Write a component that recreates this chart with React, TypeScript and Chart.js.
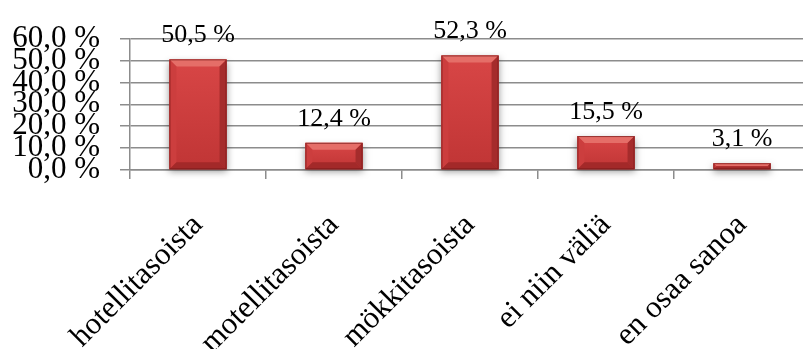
import React, { useEffect, useRef } from "react";
import { Chart, registerables } from "chart.js";

Chart.register(...registerables);

const categories = ["hotellitasoista", "motellitasoista", "mökkitasoista", "ei niin väliä", "en osaa sanoa"];
const shares = [50.5, 12.4, 52.3, 15.5, 3.1];
const yTickValues = [0, 10, 20, 30, 40, 50, 60];

const SERIF = "'Liberation Serif', 'Times New Roman', serif";
const GRID = "#8c8c8c";

const fmt = (v: number) => v.toFixed(1).replace(".", ",") + " %";

// Draws each bar as a bevelled red block with a soft drop shadow, plus its value label.
const bevelBars = {
  id: "bevelBars",
  afterDatasetsDraw(chart: any) {
    const ctx: CanvasRenderingContext2D = chart.ctx;
    const meta = chart.getDatasetMeta(0);
    meta.data.forEach((bar: any, i: number) => {
      const { x, y, base, width } = bar.getProps(["x", "y", "base", "width"], true);
      const l = x - width / 2;
      const r = x + width / 2;
      const t = Math.min(y, base);
      const b = Math.max(y, base);
      const h = b - t;
      const bv = Math.min(7, h / 2, width / 2);

      // shadow
      ctx.save();
      ctx.shadowColor = "rgba(0,0,0,0.4)";
      ctx.shadowBlur = 7;
      ctx.shadowOffsetY = 3;
      ctx.fillStyle = "#b83232";
      ctx.fillRect(l, t, width, h);
      ctx.restore();

      // face
      const g = ctx.createLinearGradient(0, t, 0, b);
      g.addColorStop(0, "#d84646");
      g.addColorStop(1, "#c03535");
      ctx.fillStyle = g;
      ctx.fillRect(l, t, width, h);

      const poly = (pts: number[][], color: string) => {
        ctx.beginPath();
        ctx.moveTo(pts[0][0], pts[0][1]);
        for (let k = 1; k < pts.length; k++) ctx.lineTo(pts[k][0], pts[k][1]);
        ctx.closePath();
        ctx.fillStyle = color;
        ctx.fill();
      };
      // top bevel
      poly([[l, t], [r, t], [r - bv, t + bv], [l + bv, t + bv]], "#e56e68");
      // left bevel
      poly([[l, t], [l + bv, t + bv], [l + bv, b - bv], [l, b]], "#cc3e3e");
      // right bevel
      poly([[r, t], [r, b], [r - bv, b - bv], [r - bv, t + bv]], "#a52c2c");
      // bottom bevel
      poly([[l, b], [l + bv, b - bv], [r - bv, b - bv], [r, b]], "#a32929");

      ctx.strokeStyle = "rgba(120,25,25,0.7)";
      ctx.lineWidth = 1;
      ctx.strokeRect(l + 0.5, t + 0.5, width - 1, h - 1);

      // value label
      ctx.save();
      ctx.fillStyle = "#000";
      ctx.font = `26px ${SERIF}`;
      ctx.textAlign = "center";
      ctx.textBaseline = "alphabetic";
      ctx.fillText(fmt(shares[i]), x, t - 17);
      ctx.restore();
    });
  },
};

export default function App() {
  const ref = useRef<HTMLCanvasElement | null>(null);

  useEffect(() => {
    document.body.style.margin = "0";
    const canvas = ref.current;
    if (!canvas) return;
    const chart = new Chart(canvas, {
      type: "bar",
      data: {
        labels: categories,
        datasets: [
          {
            data: shares,
            backgroundColor: "rgba(0,0,0,0)",
            borderWidth: 0,
            barPercentage: 0.42,
            categoryPercentage: 1,
          },
        ],
      },
      options: {
        responsive: false,
        animation: false,
        devicePixelRatio: 1,
        layout: { padding: { top: 30, left: 0, right: 0, bottom: 0 } },
        plugins: {
          legend: { display: false },
          tooltip: { enabled: false },
        },
        scales: {
          x: {
            type: "category",
            grid: {
              display: true,
              drawOnChartArea: false,
              offset: true,
              tickLength: 9,
              color: GRID,
              lineWidth: 1.5,
            },
            border: { display: true, color: GRID, width: 1.5 },
            ticks: {
              minRotation: 45,
              maxRotation: 45,
              autoSkip: false,
              padding: 28,
              color: "#000",
              font: { family: SERIF, size: 31 },
            },
            afterFit: (s: any) => {
              s.height = 179;
            },
          },
          y: {
            min: 0,
            max: 60,
            afterBuildTicks: (s: any) => {
              s.ticks = yTickValues.map((v) => ({ value: v }));
            },
            ticks: {
              autoSkip: false,
              padding: 20,
              color: "#000",
              font: { family: SERIF, size: 31 },
              callback: (v: any) => fmt(Number(v)),
            },
            grid: { color: GRID, lineWidth: 1.5, tickLength: 10 },
            border: { display: true, color: GRID, width: 1.5 },
            afterFit: (s: any) => {
              s.width = 130;
            },
          },
        },
      },
      plugins: [bevelBars],
    });
    return () => chart.destroy();
  }, []);

  return (
    <div
      style={{
        position: "absolute",
        left: 0,
        top: 0,
        width: 803,
        height: 349,
        overflow: "hidden",
        background: "#fff",
      }}
    >
      <canvas ref={ref} width={810} height={349} style={{ width: 810, height: 349, display: "block" }} />
    </div>
  );
}
